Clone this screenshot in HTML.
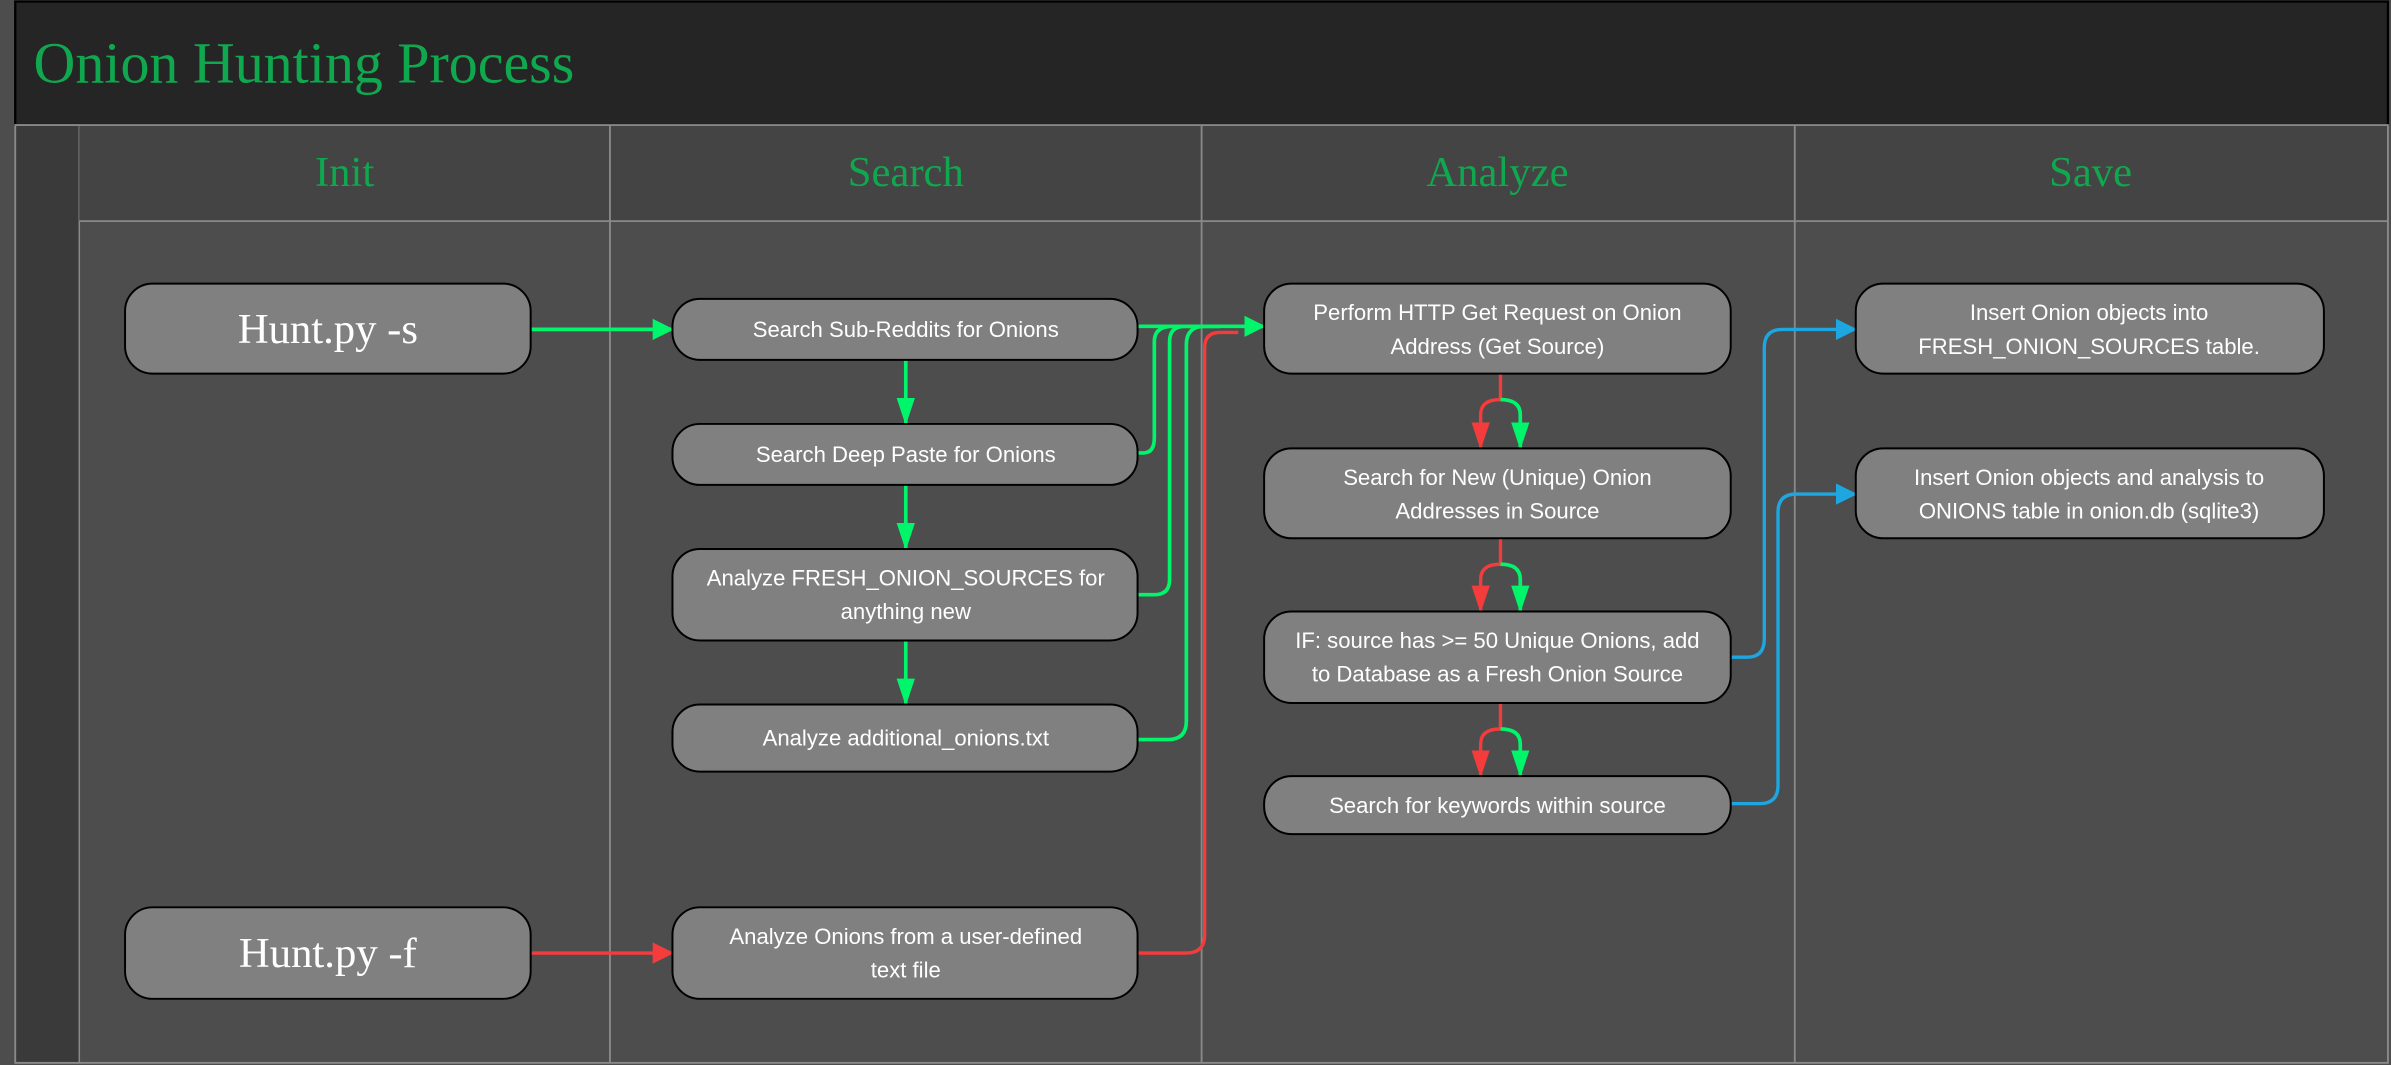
<!DOCTYPE html>
<html><head><meta charset="utf-8"><style>
html,body{margin:0;padding:0;background:#4d4d4d;overflow:hidden}
svg{display:block}
.n{fill:#808080;stroke:#000;stroke-width:1.3}
.t{font-family:"Liberation Sans",sans-serif;font-size:14.5px;fill:#fff;text-anchor:middle}
.s{font-family:"Liberation Serif",serif;fill:#fff;text-anchor:middle;font-size:28px}
.h{font-family:"Liberation Serif",serif;fill:#10a84f;text-anchor:middle;font-size:28px}
.g{stroke:#00f56a;stroke-width:2.4;fill:none}
.r{stroke:#f53c3c;stroke-width:2.2;fill:none}
.b{stroke:#1ea6e0;stroke-width:2.2;fill:none}
</style></head><body>
<svg width="2391" height="1065" viewBox="0 0 1568 698.4" xmlns="http://www.w3.org/2000/svg">
<defs>
<marker id="ag" markerWidth="18" markerHeight="12" refX="17" refY="6" orient="auto" markerUnits="userSpaceOnUse"><path d="M0,0 L18,6 L0,12 z" fill="#00f56a"/></marker>
<marker id="ar" markerWidth="18" markerHeight="12" refX="17" refY="6" orient="auto" markerUnits="userSpaceOnUse"><path d="M0,0 L18,6 L0,12 z" fill="#f53c3c"/></marker>
<marker id="agL" markerWidth="14" markerHeight="14" refX="13" refY="7" orient="auto" markerUnits="userSpaceOnUse"><path d="M0,0 L14,7 L0,14 z" fill="#00f56a"/></marker>
<marker id="arL" markerWidth="14" markerHeight="14" refX="13" refY="7" orient="auto" markerUnits="userSpaceOnUse"><path d="M0,0 L14,7 L0,14 z" fill="#f53c3c"/></marker>
<marker id="abL" markerWidth="14" markerHeight="14" refX="13" refY="7" orient="auto" markerUnits="userSpaceOnUse"><path d="M0,0 L14,7 L0,14 z" fill="#1ea6e0"/></marker>
</defs>
<rect x="0" y="0" width="1568" height="698.4" fill="#4d4d4d"/>
<rect x="10" y="1" width="1556" height="81" fill="#252525" stroke="#000" stroke-width="1.5"/>
<text x="22" y="54" font-family="Liberation Serif,serif" font-size="38" fill="#10a84f">Onion Hunting Process</text>
<rect x="10" y="82" width="42" height="615" fill="#3a3a3a" stroke="#888"/>
<rect x="52" y="82" width="1514" height="63" fill="#444"/>
<g stroke="#8a8a8a" stroke-width="1.2" fill="none">
<rect x="10" y="82" width="1556" height="615"/>
<line x1="52" y1="145" x2="1566" y2="145"/>
<line x1="400" y1="82" x2="400" y2="697"/>
<line x1="788" y1="82" x2="788" y2="697"/>
<line x1="1177" y1="82" x2="1177" y2="697"/>
</g>
<text class="h" x="226" y="122">Init</text>
<text class="h" x="594" y="122">Search</text>
<text class="h" x="982" y="122">Analyze</text>
<text class="h" x="1371" y="122">Save</text>

<path class="g" d="M348,216 H441" marker-end="url(#agL)"/>
<path class="g" d="M594,236 V278" marker-end="url(#ag)"/>
<path class="g" d="M594,318 V360" marker-end="url(#ag)"/>
<path class="g" d="M594,420 V462" marker-end="url(#ag)"/>
<path class="g" d="M746,214 H829" marker-end="url(#agL)"/>
<path class="g" d="M746,297 H750 q7,0 7,-10 V224 q0,-10 12,-10 H800"/>
<path class="g" d="M746,390 H757 q10,0 10,-10 V224 q0,-10 10,-10 H800"/>
<path class="g" d="M746,485 H766 q12,0 12,-12 V226 q0,-12 12,-12 H800"/>
<path class="r" d="M348,625 H441" marker-end="url(#arL)"/>
<path class="r" d="M746,625 H778 q12,0 12,-12 V228 q0,-10 10,-10 H812"/>
<g>
<path class="r" d="M984,245 V262 q-13,0 -13,10 V294" marker-end="url(#ar)"/>
<path class="g" d="M984,262 q13,0 13,10 V294" marker-end="url(#ag)"/>
<path class="r" d="M984,353 V370 q-13,0 -13,10 V401" marker-end="url(#ar)"/>
<path class="g" d="M984,370 q13,0 13,10 V401" marker-end="url(#ag)"/>
<path class="r" d="M984,461 V478 q-13,0 -13,10 V509" marker-end="url(#ar)"/>
<path class="g" d="M984,478 q13,0 13,10 V509" marker-end="url(#ag)"/>
</g>
<path class="b" d="M1135,431 H1146 q11,0 11,-12 V228 q0,-12 12,-12 H1217" marker-end="url(#abL)"/>
<path class="b" d="M1135,527 H1154 q12,0 12,-12 V336 q0,-12 12,-12 H1217" marker-end="url(#abL)"/>

<rect class="n" x="82" y="186" width="266" height="59" rx="18"/>
<text class="s" x="215" y="225">Hunt.py -s</text>
<rect class="n" x="82" y="595" width="266" height="60" rx="18"/>
<text class="s" x="215" y="634">Hunt.py -f</text>

<rect class="n" x="441" y="196" width="305" height="40" rx="18"/>
<text class="t" x="594" y="221">Search Sub-Reddits for Onions</text>
<rect class="n" x="441" y="278" width="305" height="40" rx="18"/>
<text class="t" x="594" y="303">Search Deep Paste for Onions</text>
<rect class="n" x="441" y="360" width="305" height="60" rx="18"/>
<text class="t" x="594" y="384">Analyze FRESH_ONION_SOURCES for</text>
<text class="t" x="594" y="406">anything new</text>
<rect class="n" x="441" y="462" width="305" height="44" rx="18"/>
<text class="t" x="594" y="489">Analyze additional_onions.txt</text>
<rect class="n" x="441" y="595" width="305" height="60" rx="18"/>
<text class="t" x="594" y="619">Analyze Onions from a user-defined</text>
<text class="t" x="594" y="641">text file</text>

<rect class="n" x="829" y="186" width="306" height="59" rx="18"/>
<text class="t" x="982" y="210">Perform HTTP Get Request on Onion</text>
<text class="t" x="982" y="232">Address (Get Source)</text>
<rect class="n" x="829" y="294" width="306" height="59" rx="18"/>
<text class="t" x="982" y="318">Search for New (Unique) Onion</text>
<text class="t" x="982" y="340">Addresses in Source</text>
<rect class="n" x="829" y="401" width="306" height="60" rx="18"/>
<text class="t" x="982" y="425">IF: source has &gt;= 50 Unique Onions, add</text>
<text class="t" x="982" y="447">to Database as a Fresh Onion Source</text>
<rect class="n" x="829" y="509" width="306" height="38" rx="18"/>
<text class="t" x="982" y="533">Search for keywords within source</text>

<rect class="n" x="1217" y="186" width="307" height="59" rx="18"/>
<text class="t" x="1370" y="210">Insert Onion objects into</text>
<text class="t" x="1370" y="232">FRESH_ONION_SOURCES table.</text>
<rect class="n" x="1217" y="294" width="307" height="59" rx="18"/>
<text class="t" x="1370" y="318">Insert Onion objects and analysis to</text>
<text class="t" x="1370" y="340">ONIONS table in onion.db (sqlite3)</text>
</svg>
</body></html>
